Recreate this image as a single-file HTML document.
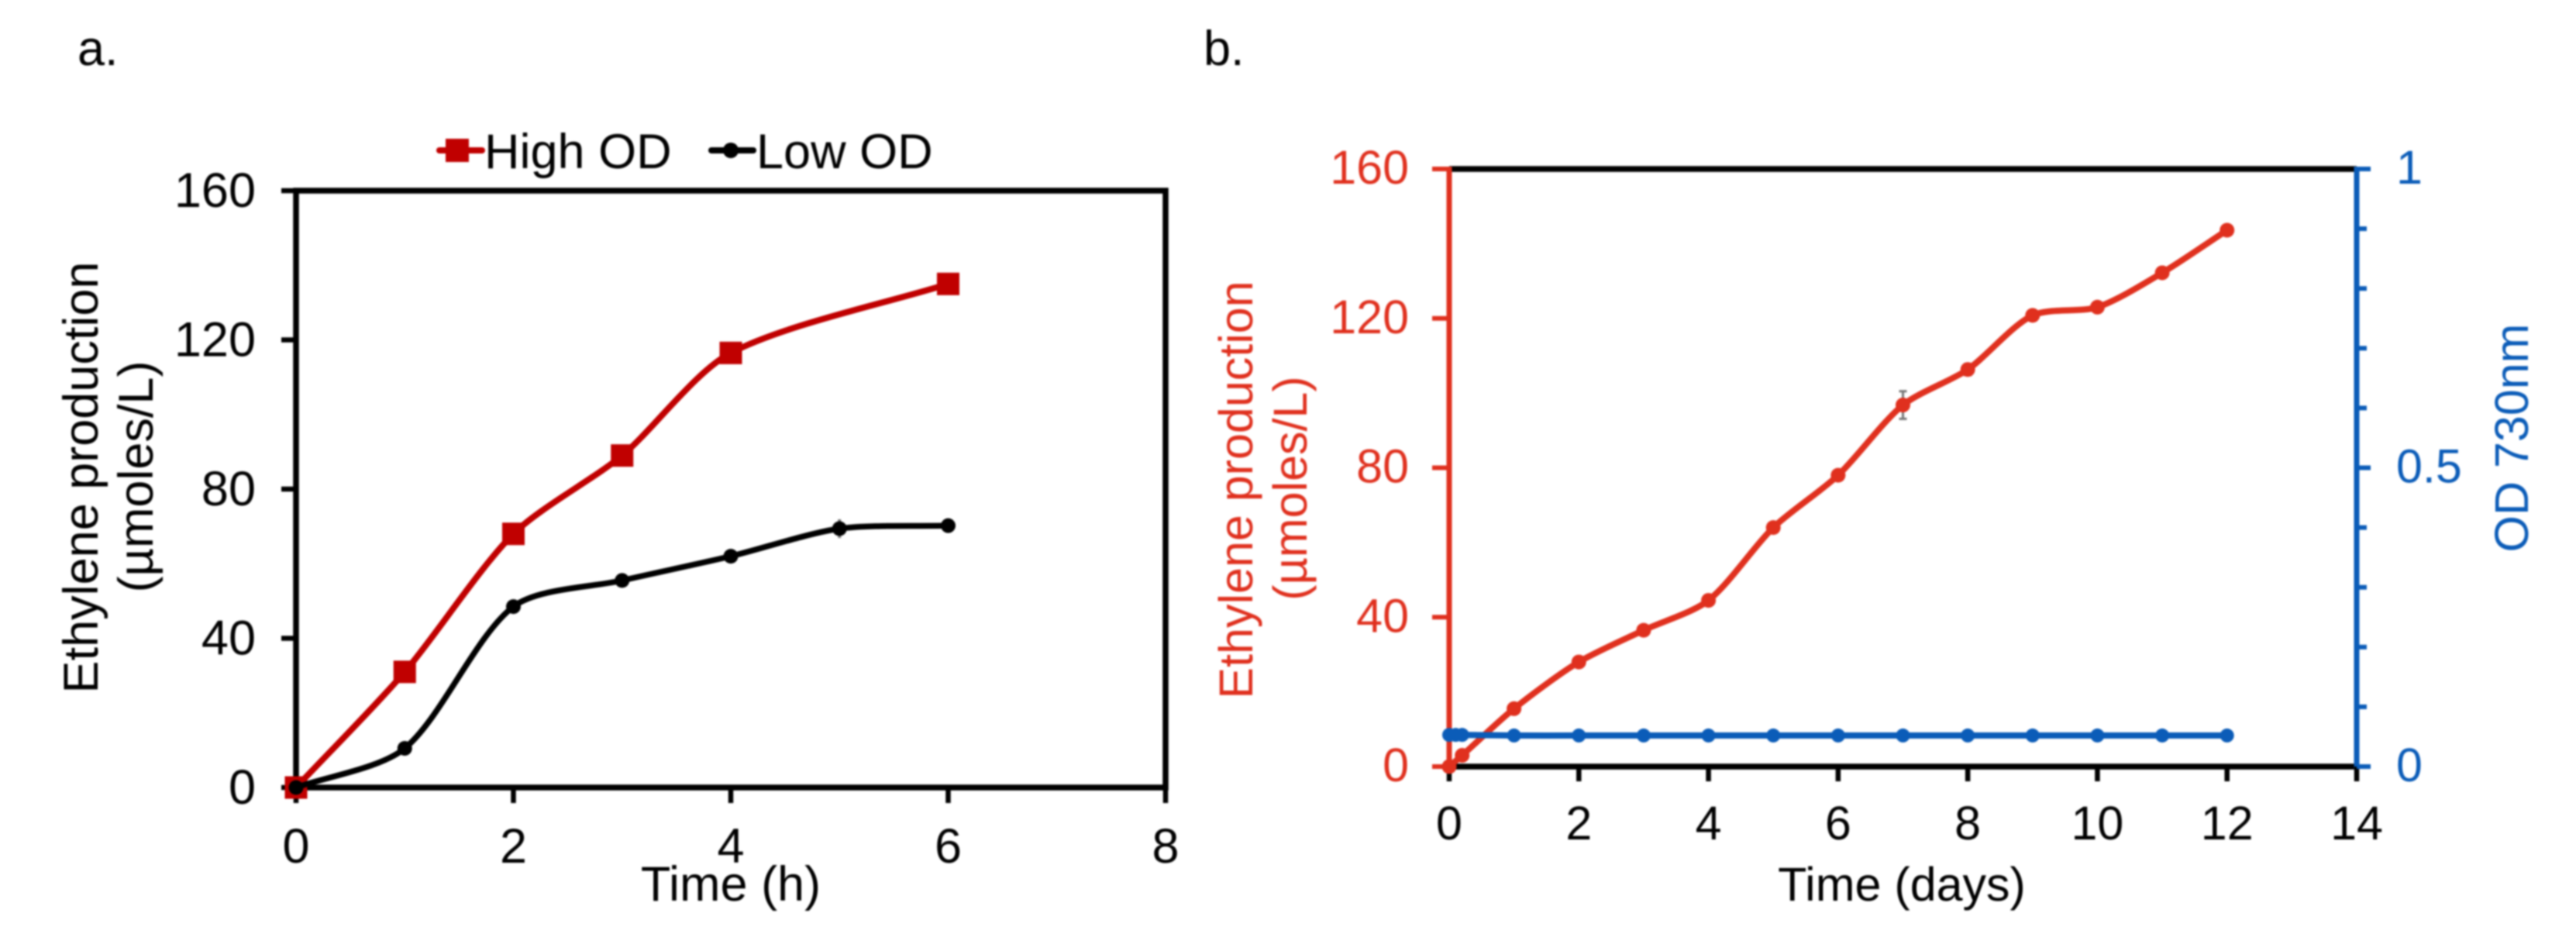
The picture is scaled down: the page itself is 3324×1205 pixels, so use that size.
<!DOCTYPE html>
<html lang="en">
<head>
<meta charset="utf-8">
<title>Ethylene production charts</title>
<style>
html,body{margin:0;padding:0;background:#fff;width:3324px;height:1205px;overflow:hidden}
svg{display:block;filter:blur(1px)}
text{font-family:"Liberation Sans",Arial,sans-serif;font-size:63px;fill:#000}
text.pb{font-size:61px}
</style>
</head>
<body>
<svg id="figure" xmlns="http://www.w3.org/2000/svg" width="3324" height="1205" viewBox="0 0 3324 1205">
  <rect x="0" y="0" width="3324" height="1205" fill="#fff"/>
  <text x="100" y="84">a.</text>
  <text x="1553" y="84">b.</text>
  <g id="panel-a"></g>
  <g id="panel-b"></g>

  <g>
    <g>
      <line x1="567" y1="194" x2="622" y2="194" stroke="#c00000" stroke-width="8" stroke-linecap="round"/>
      <rect x="575" y="179" width="30" height="30" fill="#c00000"/>
      <text x="625" y="217">High OD</text>
    </g>
    <g>
      <line x1="918" y1="194" x2="972" y2="194" stroke="#000" stroke-width="8" stroke-linecap="round"/>
      <circle cx="943" cy="194" r="10" fill="#000"/>
      <text x="976" y="217">Low OD</text>
    </g>
  </g>

  <text x="943" y="1162" text-anchor="middle">Time (h)</text>
  <text transform="translate(126 616) rotate(-90)" text-anchor="middle">Ethylene production</text>
  <text transform="translate(197 615) rotate(-90)" text-anchor="middle">(µmoles/L)</text>

  <text class="pb" x="2454" y="1162" text-anchor="middle">Time (days)</text>
  <text class="pb" transform="translate(1616 632) rotate(-90)" text-anchor="middle" style="fill:#e0301e">Ethylene production</text>
  <text class="pb" transform="translate(1686 630) rotate(-90)" text-anchor="middle" style="fill:#e0301e">(µmoles/L)</text>
  <text class="pb" transform="translate(3262 565) rotate(-90)" text-anchor="middle" style="fill:#0b5cb8">OD 730nm</text>
</svg>

<script>
// Panel a data
const aTimes = [0, 1, 2, 3, 4, 6];
const aHighOD = [0, 31, 68, 89, 116.5, 135];
const aLowTimes = [0, 1, 2, 3, 4, 5, 6];
const aLowOD = [0, 10.5, 48.5, 55.5, 62, 69.4, 70.2];
const aLowErrors = [0, 0, 0, 0, 0, 2.5, 0];
const aXTicks = [0, 2, 4, 6, 8];
const aYTicks = [0, 40, 80, 120, 160];

// Panel b data
const bTimes = [0, 0.2, 1, 2, 3, 4, 5, 6, 7, 8, 9, 10, 11, 12];
const bEthylene = [0, 3, 15.5, 28, 36.5, 44.5, 64, 78, 96.8, 106.3, 120.8, 123, 132.2, 143.6];
const bEthyleneErrors = [0, 0, 0, 0, 0, 0, 0, 0, 3.7, 1.5, 0, 0, 0, 0];
const bOdTimes = [0, 0.1, 0.2, 1, 2, 3, 4, 5, 6, 7, 8, 9, 10, 11, 12];
const bOd = [0.053, 0.053, 0.053, 0.052, 0.052, 0.052, 0.052, 0.052, 0.052, 0.052, 0.052, 0.052, 0.052, 0.052, 0.052];
const bXTicks = [0, 2, 4, 6, 8, 10, 12, 14];
const bLeftTicks = [0, 40, 80, 120, 160];
const bRightMajorTicks = [0, 0.5, 1];
const bRightMinorTicks = [0.1, 0.2, 0.3, 0.4, 0.6, 0.7, 0.8, 0.9];

const SVGNS = 'http://www.w3.org/2000/svg';
const RED_DARK = '#c00000';
const RED = '#e0301e';
const BLUE = '#0b5cb8';

function make(parent, tag, attrs, content) {
  const node = document.createElementNS(SVGNS, tag);
  for (const k in attrs) node.setAttribute(k, attrs[k]);
  if (content !== undefined) node.textContent = content;
  parent.appendChild(node);
  return node;
}
function lineEl(parent, x1, y1, x2, y2, color, width) {
  return make(parent, 'line', {x1: x1, y1: y1, x2: x2, y2: y2, stroke: color, 'stroke-width': width});
}
function smoothPath(pts) {
  let d = 'M' + pts[0][0] + ' ' + pts[0][1];
  const tangent = function (i) {
    const a = pts[Math.max(i - 1, 0)], b = pts[Math.min(i + 1, pts.length - 1)];
    const dx = b[0] - a[0], dy = b[1] - a[1], len = Math.hypot(dx, dy) || 1;
    return [dx / len, dy / len];
  };
  for (let i = 0; i < pts.length - 1; i++) {
    const p = pts[i], q = pts[i + 1];
    const seg = Math.hypot(q[0] - p[0], q[1] - p[1]) * 0.27;
    const t0 = tangent(i), t1 = tangent(i + 1);
    d += ' C' + (p[0] + t0[0] * seg) + ' ' + (p[1] + t0[1] * seg) + ' ' +
         (q[0] - t1[0] * seg) + ' ' + (q[1] - t1[1] * seg) + ' ' + q[0] + ' ' + q[1];
  }
  return d;
}

// Panel a axes
const ax = function (v) { return 382 + (v / 8) * (1504 - 382); };
const ay = function (v) { return 1016 - (v / 160) * (1016 - 246); };
const gA = document.getElementById('panel-a');

const aFrame = make(gA, 'rect', {x: ax(0), y: ay(160), width: ax(8) - ax(0), height: ay(0) - ay(160), fill: 'none', stroke: '#000', 'stroke-width': 7.5});



aXTicks.forEach(function (v) {
  const tick = lineEl(gA, ax(v), ay(0), ax(v), ay(0) + 20, '#000', 6.5);
  
  
  const label = make(gA, 'text', {x: ax(v), y: 1113, 'text-anchor': 'middle'}, String(v));
  
  
});
aYTicks.forEach(function (v) {
  const tick = lineEl(gA, ax(0) - 19, ay(v), ax(0), ay(v), '#000', 6.5);
  
  
  const label = make(gA, 'text', {x: 330, y: ay(v) + 21, 'text-anchor': 'end'}, String(v));
  
  
});

// Panel a series
const highPts = aTimes.map(function (t, i) { return [ax(t), ay(aHighOD[i])]; });
const highLine = make(gA, 'path', {d: smoothPath(highPts), fill: 'none', stroke: RED_DARK, 'stroke-width': 8});


highPts.forEach(function (p) {
  const mark = make(gA, 'rect', {x: p[0] - 14.5, y: p[1] - 14.5, width: 29, height: 29, fill: RED_DARK});
  
  
});

aLowTimes.forEach(function (t, i) {
  if (aLowErrors[i] > 0) {
    const err = lineEl(gA, ax(t), ay(aLowOD[i] + aLowErrors[i]), ax(t), ay(aLowOD[i] - aLowErrors[i]), '#777', 4);
    
    
  }
});
const lowPts = aLowTimes.map(function (t, i) { return [ax(t), ay(aLowOD[i])]; });
const lowLine = make(gA, 'path', {d: smoothPath(lowPts), fill: 'none', stroke: '#000', 'stroke-width': 7.5});


lowPts.forEach(function (p) {
  const mark = make(gA, 'circle', {cx: p[0], cy: p[1], r: 9.5, fill: '#000'});
  
  
});

// Panel b axes
const bx = function (v) { return 1870 + (v / 14) * (3041 - 1870); };
const by = function (v) { return 989 - (v / 160) * (989 - 218); };
const byR = function (v) { return 989 - v * (989 - 218); };
const gB = document.getElementById('panel-b');

const bTop = lineEl(gB, bx(0), by(160), bx(14), by(160), '#000', 7.5);


const bBottom = lineEl(gB, bx(0), by(0), bx(14), by(0), '#000', 7.5);


const bLeft = lineEl(gB, bx(0), by(160) - 3, bx(0), by(0) + 3, RED, 7);


const bRight = lineEl(gB, bx(14), byR(1) - 3, bx(14), byR(0) + 3, BLUE, 7);



bXTicks.forEach(function (v) {
  const tick = lineEl(gB, bx(v), by(0), bx(v), by(0) + 19, '#000', 6.5);
  
  
  const label = make(gB, 'text', {x: bx(v), y: 1083, 'text-anchor': 'middle', class: 'pb'}, String(v));
  
  
});
bLeftTicks.forEach(function (v) {
  const tick = lineEl(gB, bx(0) - 22, by(v), bx(0), by(v), RED, 6);
  
  
  const label = make(gB, 'text', {x: 1818, y: by(v) + 19, 'text-anchor': 'end', class: 'pb', style: 'fill:' + RED}, String(v));
  
  
});
bRightMajorTicks.forEach(function (v) {
  const tick = lineEl(gB, bx(14), byR(v), bx(14) + 18, byR(v), BLUE, 6);
  
  
  const label = make(gB, 'text', {x: 3092, y: byR(v) + 19, class: 'pb', style: 'fill:' + BLUE}, String(v));
  
  
});
bRightMinorTicks.forEach(function (v) {
  const tick = lineEl(gB, bx(14), byR(v), bx(14) + 13, byR(v), BLUE, 6);
  
  
});

// Panel b series
bTimes.forEach(function (t, i) {
  if (bEthyleneErrors[i] > 0) {
    const xp = bx(t), top = by(bEthylene[i] + bEthyleneErrors[i]), bot = by(bEthylene[i] - bEthyleneErrors[i]);
    const err = make(gB, 'path', {d: 'M' + (xp - 5) + ' ' + top + 'H' + (xp + 5) + 'M' + xp + ' ' + top + 'V' + bot + 'M' + (xp - 5) + ' ' + bot + 'H' + (xp + 5), fill: 'none', stroke: '#777', 'stroke-width': 3});
    
    
  }
});
const ethPts = bTimes.map(function (t, i) { return [bx(t), by(bEthylene[i])]; });
const ethLine = make(gB, 'path', {d: smoothPath(ethPts), fill: 'none', stroke: RED, 'stroke-width': 8});


ethPts.forEach(function (p) {
  const mark = make(gB, 'circle', {cx: p[0], cy: p[1], r: 9.5, fill: RED});
  
  
});
const odPts = bOdTimes.map(function (t, i) { return [bx(t), byR(bOd[i])]; });
const odLine = make(gB, 'path', {d: smoothPath(odPts), fill: 'none', stroke: BLUE, 'stroke-width': 8});


odPts.forEach(function (p) {
  const mark = make(gB, 'circle', {cx: p[0], cy: p[1], r: 9, fill: BLUE});
  
  
});
</script>
</body>
</html>
